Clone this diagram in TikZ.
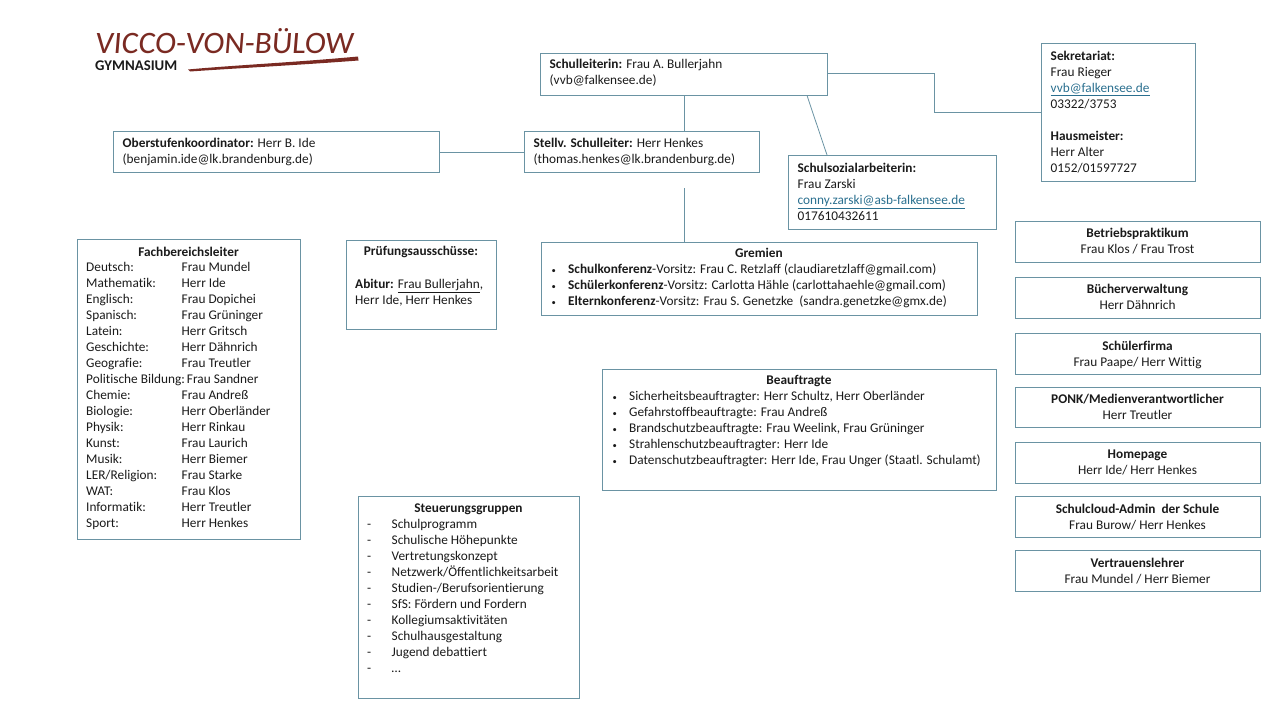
\documentclass[tikz,border=0pt]{standalone}
\usepackage{graphicx}
\usepackage{fontspec}
\setmainfont{Carlito}[Ligatures=CommonOff]
\definecolor{boxline}{HTML}{6A93A3}
\definecolor{linkblue}{HTML}{2A6F8F}
\definecolor{logored}{HTML}{7A2A22}
\definecolor{inktext}{HTML}{1A1A1A}
\newcommand{\mail}[1]{\textcolor{linkblue}{\underline{#1}}}
\newcommand{\fb}[2]{\makebox[95.5pt][l]{#1}#2\\}
\newcommand{\bul}{\makebox[18pt][l]{\hspace{1.5pt}\scalebox{0.65}{•}}}
\newcommand{\dsh}{\makebox[24.5pt][l]{-}}
\newcommand{\bodyfont}{\fontsize{13.3pt}{16pt}\selectfont}
\tikzset{
  x=1pt,y=-1pt,
  box/.style={draw=boxline,line width=0.8pt,anchor=north west,inner sep=0pt,outer sep=0pt},
  boxtext/.style={inner sep=0pt,text=inktext,font=\bodyfont},
  link/.style={draw=boxline,line width=0.8pt},
}
\newcommand{\bx}[7][6]{%
  \pgfmathsetmacro{\bw}{#5-#3}\pgfmathsetmacro{\bh}{#6-#4}%
  \node[box,minimum width=\bw pt,minimum height=\bh pt] (#2) at (#3+0.5,#4+0.5) {};
  \node[boxtext,anchor=north west,align=left] (#2t) at (#3+9.5,#4+#1) {#7};
}
\newcommand{\bxc}[7][6]{%
  \pgfmathsetmacro{\bw}{#5-#3}\pgfmathsetmacro{\bh}{#6-#4}%
  \node[box,minimum width=\bw pt,minimum height=\bh pt] (#2) at (#3+0.5,#4+0.5) {};
  \node[boxtext,anchor=north,align=center] (#2t) at ({(#3+#5)/2},#4+#1) {#7};
}
\begin{document}
\begin{tikzpicture}
\useasboundingbox (0,0) rectangle (1280,720);
% logo
\node[anchor=west,inner sep=0pt,text=logored] (logoname) at (95,41)
  {\resizebox{258pt}{25pt}{\fontspec{Carlito}[FakeSlant=0.08]VICCO-VON-BÜLOW}};
\node[anchor=west,inner sep=0pt,text=inktext,font=\bfseries\fontsize{14.8pt}{14pt}\selectfont] (logogym) at (95,66) {GYMNASIUM};
\fill[logored] (188,69.5) .. controls (230,65.5) and (300,62) .. (358,56.5) -- (358.5,60.5) .. controls (300,65) and (240,68) .. (190,71.5) -- cycle;
% top boxes
\bx{leit}{540}{53}{827}{95}{\textbf{Schulleiterin:} Frau A. Bullerjahn\\(vvb@falkensee.de)}
\bx[7]{stell}{524}{131}{759}{172}{\textbf{Stellv. Schulleiter:} Herr Henkes\\(thomas.henkes@lk.brandenburg.de)}
\bx[7]{ober}{113}{131}{439}{172}{\textbf{Oberstufenkoordinator:} Herr B. Ide\\(benjamin.ide@lk.brandenburg.de)}
\bx[8]{sozial}{788}{155}{996}{229}{\textbf{Schulsozialarbeiterin:}\\Frau Zarski\\\mail{conny.zarski@asb-falkensee.de}\\017610432611}
\bx[8]{sek}{1041}{43}{1195}{181}{\textbf{Sekretariat:}\\Frau Rieger\\\mail{vvb@falkensee.de}\\03322/3753\\[16pt]\textbf{Hausmeister:}\\Herr Alter\\0152/01597727}
% left
\bxc[7.5]{fbl}{77}{239}{300}{539}{\textbf{Fachbereichsleiter}}
\node[boxtext,anchor=north west,align=left] (fblist) at (86,262.5) {%
\fb{Deutsch:}{Frau Mundel}\fb{Mathematik:}{Herr Ide}\fb{Englisch:}{Frau Dopichei}\fb{Spanisch:}{Frau Grüninger}\fb{Latein:}{Herr Gritsch}\fb{Geschichte:}{Herr Dähnrich}\fb{Geografie:}{Frau Treutler}Politische Bildung:\hspace{-2pt} Frau Sandner\\\fb{Chemie:}{Frau Andreß}\fb{Biologie:}{Herr Oberländer}\fb{Physik:}{Herr Rinkau}\fb{Kunst:}{Frau Laurich}\fb{Musik:}{Herr Biemer}\fb{LER/Religion:}{Frau Starke}\fb{WAT:}{Frau Klos}\fb{Informatik:}{Herr Treutler}\fb{Sport:}{Herr Henkes}};
\bxc{pruef}{346}{240}{496}{329}{\textbf{Prüfungsausschüsse:}}
\node[boxtext,anchor=north west,align=left] (prueflist) at (355,278.5) {\textbf{Abitur:} \underline{Frau Bullerjahn},\\Herr Ide, Herr Henkes};
% Gremien
\bxc{grem}{541}{242}{977}{315}{\textbf{Gremien}}
\node[boxtext,anchor=north west,align=left] (gremlist) at (550,264) {%
\bul\textbf{Schulkonferenz}-Vorsitz: Frau C. Retzlaff (claudiaretzlaff@gmail.com)\\
\bul\textbf{Schülerkonferenz}-Vorsitz: Carlotta Hähle (carlottahaehle@gmail.com)\\
\bul\textbf{Elternkonferenz}-Vorsitz: Frau S. Genetzke\ \ (sandra.genetzke@gmx.de)};
% Beauftragte
\bxc{beau}{602}{369}{996}{490}{\textbf{Beauftragte}}
\node[boxtext,anchor=north west,align=left] (beaulist) at (611,391.5) {%
\bul Sicherheitsbeauftragter: Herr Schultz, Herr Oberländer\\
\bul Gefahrstoffbeauftragte: Frau Andreß\\
\bul Brandschutzbeauftragte: Frau Weelink, Frau Grüninger\\
\bul Strahlenschutzbeauftragter: Herr Ide\\
\bul Datenschutzbeauftragter: Herr Ide, Frau Unger (Staatl. Schulamt)};
% Steuerungsgruppen
\bxc[8]{steu}{358}{496}{579}{698}{\textbf{Steuerungsgruppen}}
\node[boxtext,anchor=north west,align=left] (steulist) at (367,519.5) {%
\dsh Schulprogramm\\\dsh Schulische Höhepunkte\\\dsh Vertretungskonzept\\\dsh Netzwerk/Öffentlichkeitsarbeit\\\dsh Studien-/Berufsorientierung\\\dsh SfS: Fördern und Fordern\\\dsh Kollegiumsaktivitäten\\\dsh Schulhausgestaltung\\\dsh Jugend debattiert\\\dsh …};
% right column
\bxc[6.5]{r1}{1015}{221}{1260}{262}{\textbf{Betriebspraktikum}\\Frau Klos / Frau Trost}
\bxc[6.5]{r2}{1015}{277}{1260}{318}{\textbf{Bücherverwaltung}\\Herr Dähnrich}
\bxc[7.5]{r3}{1015}{333}{1260}{374}{\textbf{Schülerfirma}\\Frau Paape/ Herr Wittig}
\bxc[6.5]{r4}{1015}{387}{1260}{427}{\textbf{PONK/Medienverantwortlicher}\\Herr Treutler}
\bxc[8]{r5}{1015}{442}{1260}{483}{\textbf{Homepage}\\Herr Ide/ Herr Henkes}
\bxc[8]{r6}{1015}{496}{1260}{537}{\textbf{Schulcloud-Admin\ \ der Schule}\\Frau Burow/ Herr Henkes}
\bxc[8]{r7}{1015}{550}{1260}{591}{\textbf{Vertrauenslehrer}\\Frau Mundel / Herr Biemer}
% connectors
\coordinate (gfree) at (684.5,188);
\coordinate (leitout) at (807,95.5);
\coordinate (sozin) at (827,155);
\coordinate (bendA) at (934.5,73.5);
\coordinate (bendB) at (934.5,112.5);
\draw[link] (leit.south -| gfree) -- (stell.north -| gfree);
\draw[link] (ober.east) -- (stell.west);
\draw[link] (gfree) -- (grem.north -| gfree);
\draw[link] (leit.east |- bendA) -- (bendA) -- (bendB) -- (sek.west |- bendB);
\draw[link] (leitout) -- (sozin);
\end{tikzpicture}
\end{document}
